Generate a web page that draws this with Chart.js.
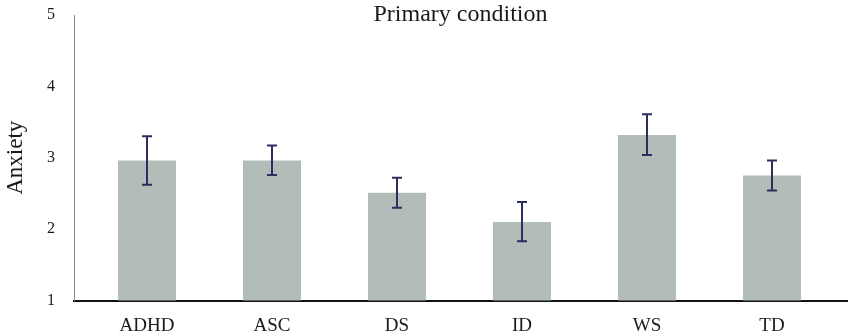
<!DOCTYPE html>
<html>
<head>
<meta charset="utf-8">
<script src="https://cdn.jsdelivr.net/npm/chart.js@4/dist/chart.umd.min.js"></script>
<style>
  html, body { margin: 0; padding: 0; background: #fff; }
  #wrap { width: 851px; height: 334px; position: relative; }
</style>
</head>
<body>
<div id="wrap"><canvas id="chart"></canvas></div>
<script>
// Anxiety by primary condition — bar means with error bars
const categories = ['ADHD', 'ASC', 'DS', 'ID', 'WS', 'TD'];
const means = [2.96, 2.96, 2.51, 2.10, 3.32, 2.75];
const errUpper = [3.30, 3.17, 2.72, 2.38, 3.61, 2.96];
const errLower = [2.62, 2.76, 2.30, 1.83, 3.04, 2.54];
const yTicks = [1, 2, 3, 4, 5];

const SERIF = '"Liberation Serif", "DejaVu Serif", serif';
const barColor = '#b2bcb8';
const errColor = '#2b2e5e';

// draws the whiskers from errUpper / errLower through the chart scales
const errorBars = {
  id: 'errorBars',
  afterDatasetsDraw(chart) {
    const { ctx, scales: { x, y } } = chart;
    ctx.save();
    ctx.strokeStyle = errColor;
    ctx.lineWidth = 2;
    categories.forEach((_, i) => {
      const px = x.getPixelForValue(i);
      const top = y.getPixelForValue(errUpper[i]);
      const bot = y.getPixelForValue(errLower[i]);
      ctx.beginPath();
      ctx.moveTo(px, top); ctx.lineTo(px, bot);
      ctx.moveTo(px - 5, top); ctx.lineTo(px + 5, top);
      ctx.moveTo(px - 5, bot); ctx.lineTo(px + 5, bot);
      ctx.stroke();
    });
    ctx.restore();
  },
};

// title sits over the top of the plot, so draw it by hand
const topTitle = {
  id: 'topTitle',
  afterDraw(chart) {
    const { ctx, chartArea } = chart;
    ctx.save();
    ctx.font = `24px ${SERIF}`;
    ctx.fillStyle = '#1a1a1a';
    ctx.textAlign = 'center';
    ctx.textBaseline = 'alphabetic';
    ctx.fillText('Primary condition', (chartArea.left + chartArea.right) / 2, 21);
    ctx.restore();
  },
};

new Chart(document.getElementById('chart'), {
  type: 'bar',
  data: {
    datasets: [{
      data: means.map((v, i) => ({ x: i, y: v })),
      backgroundColor: barColor,
      borderWidth: 0,
      barPercentage: 0.464,
      categoryPercentage: 1,
    }],
  },
  options: {
    responsive: true,
    maintainAspectRatio: false,
    animation: false,
    layout: { padding: { top: 15, right: 4, left: 0, bottom: 0 } },
    plugins: { legend: { display: false }, tooltip: { enabled: false } },
    scales: {
      x: {
        type: 'linear',
        offset: false,
        min: -0.584,
        max: 5.6,
        afterBuildTicks: (s) => { s.ticks = categories.map((_, i) => ({ value: i })); },
        afterFit: (s) => { s.height = 33.5; },
        ticks: {
          color: '#1a1a1a',
          padding: 14,
          font: { family: SERIF, size: 19 },
          callback: (v) => categories[v] ?? '',
        },
        grid: { display: false, drawTicks: false },
        border: { color: '#111', width: 2 },
      },
      y: {
        min: 1,
        max: 5,
        afterBuildTicks: (s) => { s.ticks = yTicks.map((v) => ({ value: v })); },
        // tick padding would otherwise push the plot top down
        afterFit: (s) => { s.width = 74; s.paddingTop = 0; s.paddingBottom = 0; },
        ticks: {
          color: '#1a1a1a',
          padding: 19,
          font: { family: SERIF, size: 16 },
        },
        grid: { display: false, drawTicks: false },
        border: { color: '#8a8a8a', width: 1 },
        title: {
          display: true,
          text: 'Anxiety',
          color: '#1a1a1a',
          font: { family: SERIF, size: 23 },
          padding: { top: 2, bottom: 0 },
        },
      },
    },
  },
  plugins: [errorBars, topTitle],
});
</script>
</body>
</html>
